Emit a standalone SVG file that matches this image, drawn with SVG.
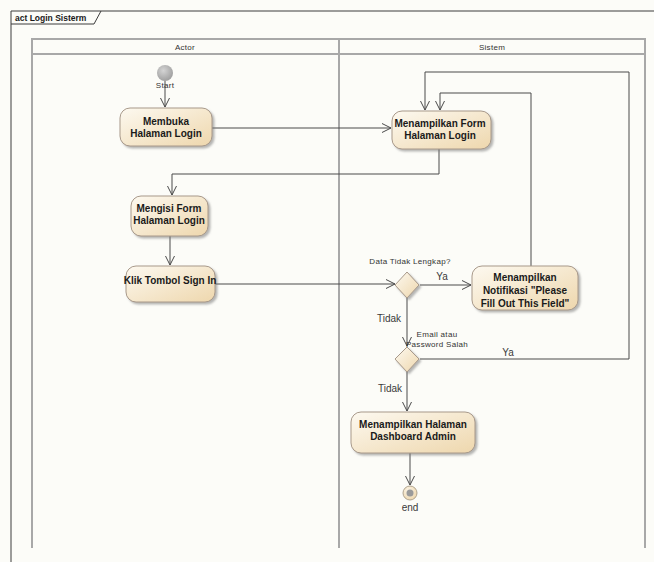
<svg xmlns="http://www.w3.org/2000/svg" width="654" height="562" viewBox="0 0 654 562">
  <defs>
    <linearGradient id="actFill" x1="0" y1="0" x2="1" y2="1">
      <stop offset="0" stop-color="#fdf9f0"/>
      <stop offset="1" stop-color="#eed7ad"/>
    </linearGradient>
    <radialGradient id="startFill" cx="0.4" cy="0.35" r="0.7">
      <stop offset="0" stop-color="#d4d4d4"/>
      <stop offset="1" stop-color="#9c9c9c"/>
    </radialGradient>
    <radialGradient id="endFill" cx="0.4" cy="0.35" r="0.7">
      <stop offset="0" stop-color="#fdf6e8"/>
      <stop offset="1" stop-color="#ecd5ab"/>
    </radialGradient>
    <filter id="shadow" x="-20%" y="-20%" width="140%" height="150%">
      <feDropShadow dx="2" dy="2" stdDeviation="1.2" flood-color="#7a7a7a" flood-opacity="0.55"/>
    </filter>
    <marker id="open" markerUnits="userSpaceOnUse" markerWidth="12" markerHeight="12" refX="9" refY="5" orient="auto">
      <path d="M0,0.5 L9,5 L0,9.5" fill="none" stroke="#4a4a4a" stroke-width="1"/>
    </marker>
  </defs>
  <style>
    .act { fill: url(#actFill); stroke: #a8998a; stroke-width: 1; filter: url(#shadow); }
    .lbl { font-family: "Liberation Sans", Arial, sans-serif; font-weight: bold; font-size: 10px; fill: #1a1a1a; text-anchor: middle; }
    .small { font-family: "Liberation Sans", Arial, sans-serif; font-size: 8px; letter-spacing: 0.3px; fill: #333; text-anchor: middle; }
    .guard { font-family: "Liberation Sans", Arial, sans-serif; font-size: 10px; fill: #3a3a3a; text-anchor: middle; }
    .lane { fill: none; stroke: #a8a8a8; stroke-width: 2; }
    .conn path { fill: none; stroke: #4a4a4a; stroke-width: 1; marker-end: url(#open); }
  </style>

  <rect x="0" y="0" width="654" height="562" fill="#fcfcf8"/>

  <!-- diagram frame -->
  <g id="frame">
    <path d="M11,562 V11 H654" fill="none" stroke="#3c3c3c" stroke-width="1"/>
    <path d="M11,24 H94 L101,11" fill="none" stroke="#3c3c3c" stroke-width="1"/>
    <text x="15" y="21" font-family="Liberation Sans, Arial, sans-serif" font-size="8.5px" font-weight="bold" fill="#1a1a1a">act Login Sisterm</text>
  </g>

  <!-- swimlanes -->
  <g id="lanes">
    <path class="lane" d="M32,548 V39 H645 V548"/>
    <line class="lane" x1="32" y1="54" x2="645" y2="54"/>
    <line class="lane" x1="339" y1="39" x2="339" y2="548"/>
    <text class="small" x="185" y="50">Actor</text>
    <text class="small" x="492" y="50">Sistem</text>
  </g>

  <!-- connectors -->
  <g id="connectors" class="conn">
    <path d="M165,81 V107"/>
    <path d="M212,128 H391"/>
    <path d="M439,149 V174 H172 V195"/>
    <path d="M170,236 V265"/>
    <path d="M215,284 H395"/>
    <path d="M420,285 H471"/>
    <path d="M531,266 V93 H440 V110"/>
    <path d="M407,298 V346"/>
    <path d="M420,359 H629 V72 H425 V110"/>
    <path d="M407,372 V411"/>
    <path d="M410,453 V485"/>
  </g>

  <g id="start">
    <circle cx="165" cy="73" r="8" fill="url(#startFill)"/>
    <text class="small" x="165" y="88" font-size="7px">Start</text>
  </g>

  <g id="membuka">
    <rect class="act" x="120" y="108" width="92" height="38" rx="10"/>
    <text class="lbl" x="166" y="125">Membuka</text>
    <text class="lbl" x="166" y="137">Halaman Login</text>
  </g>

  <g id="form">
    <rect class="act" x="392" y="111" width="99" height="38" rx="10"/>
    <text class="lbl" x="440" y="127">Menampilkan Form</text>
    <text class="lbl" x="440" y="139">Halaman Login</text>
  </g>

  <g id="mengisi">
    <rect class="act" x="131" y="196" width="77" height="40" rx="10"/>
    <text class="lbl" x="169" y="212">Mengisi Form</text>
    <text class="lbl" x="169" y="224">Halaman Login</text>
  </g>

  <g id="klik">
    <rect class="act" x="126" y="266" width="89" height="36" rx="10"/>
    <text class="lbl" x="170" y="284">Klik Tombol Sign In</text>
  </g>

  <g id="cek-data">
    <path class="act" d="M407,272 L419,285 L407,298 L395,285 Z"/>
    <text class="small" x="410" y="264">Data Tidak Lengkap?</text>
    <text class="guard" x="442" y="280">Ya</text>
    <text class="guard" x="389" y="322">Tidak</text>
  </g>

  <g id="notifikasi">
    <rect class="act" x="472" y="266" width="106" height="44" rx="10"/>
    <text class="lbl" x="525" y="281">Menampilkan</text>
    <text class="lbl" x="525" y="294">Notifikasi "Please</text>
    <text class="lbl" x="525" y="307">Fill Out This Field"</text>
  </g>

  <g id="cek-login">
    <path class="act" d="M407,347 L419,359 L407,372 L395,359 Z"/>
    <text class="small" x="437" y="337">Email atau</text>
    <text class="small" x="437" y="347">Password Salah</text>
    <text class="guard" x="508" y="356">Ya</text>
    <text class="guard" x="390" y="392">Tidak</text>
  </g>

  <g id="dashboard">
    <rect class="act" x="351" y="412" width="124" height="41" rx="10"/>
    <text class="lbl" x="413" y="428">Menampilkan Halaman</text>
    <text class="lbl" x="413" y="440">Dashboard Admin</text>
  </g>

  <g id="end">
    <circle cx="410" cy="493" r="7" fill="url(#endFill)" stroke="#b0a490" stroke-width="1"/>
    <circle cx="410" cy="493" r="3.5" fill="#9a9a9a"/>
    <text class="guard" x="410" y="511" font-size="9.5px">end</text>
  </g>
</svg>
